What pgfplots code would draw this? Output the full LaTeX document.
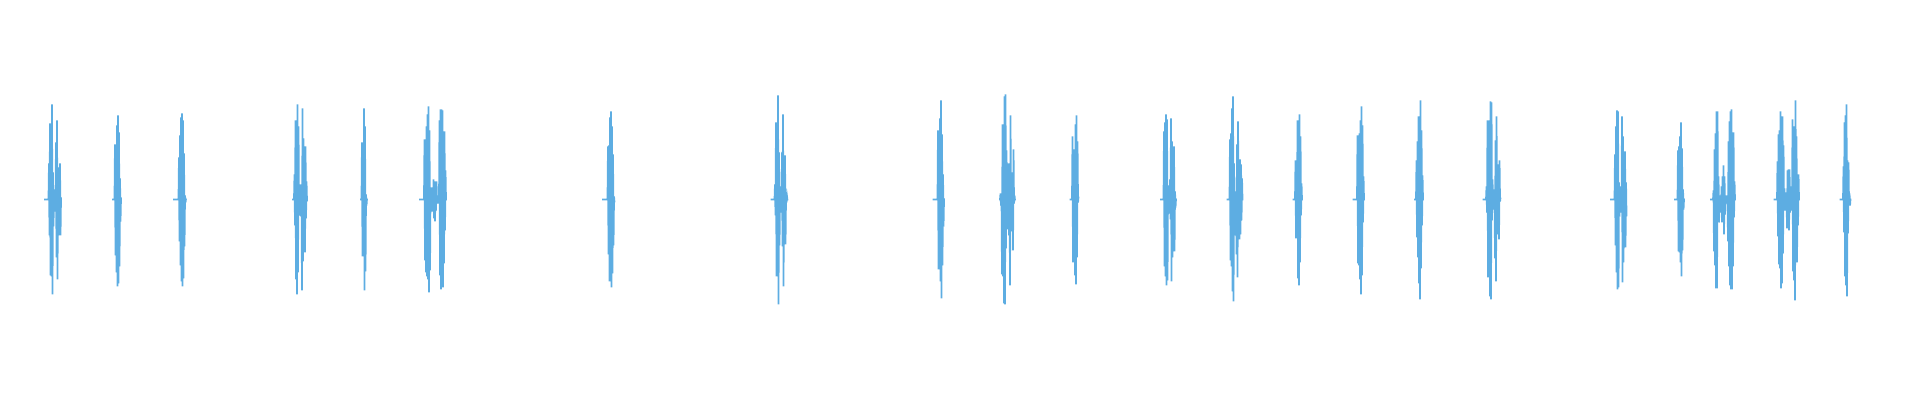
\documentclass[border=0pt]{standalone}
\usepackage{pgfplots}
\pgfplotsset{compat=1.18}
\definecolor{wavecol}{HTML}{5DADE2}
\pgfplotsset{wave/.style={color=wavecol, line width=0.5pt, mark=none, line join=miter}}

\begin{document}
\begin{tikzpicture}
\begin{axis}[
    width=19.2cm, height=4cm,
    scale only axis,
    hide axis,
    xmin=0, xmax=1920,
    ymin=-200.5, ymax=199.5,
]
% each burst of the waveform, x in pixels, amplitude in pixels
\addplot[wave] coordinates {(44,0)(48.5,0)(49.0,36)(49.5,-36)(50.0,76)(50.5,-76)(51.0,76)(51.5,-77)(52.0,95)(52.5,-95)(53.0,27)(53.5,-27)(54.0,10)(54.5,-12)(55.0,10)(55.5,-10)(56.0,57)(56.5,-58)(57.0,79)(57.5,-80)(58.0,32)(58.5,-30)(59.0,23)(59.5,-36)(60.0,36)(60.5,-36)(61.0,2)};
\addplot[wave] coordinates {(112,0)(114.5,0)(115.0,55)(115.5,-56)(116.0,55)(116.5,-73)(117.0,74)(117.5,-87)(118.0,84)(118.5,-84)(119.0,67)(119.5,-67)(120.0,21)(120.5,-22)(121.0,2)};
\addplot[wave] coordinates {(173,0)(178.5,0)(179.0,42)(179.5,-42)(180.0,64)(180.5,-66)(181.0,82)(181.5,-82)(182.0,86)(182.5,-87)(183.0,79)(183.5,-79)(184.0,46)(184.5,-47)(185.0,4)(185.5,-3)(186.0,1)};
\addplot[wave] coordinates {(292,0)(294,0)(294.5,25)(295.0,-26)(295.5,79)(296.0,-80)(296.5,79)(297.0,-95)(297.5,95)(298.0,-73)(298.5,73)(299.0,-8)(299.5,8)(300.0,-16)(300.5,15)(301.0,-17)(301.5,15)(302.0,-91)(302.5,91)(303.0,-62)(303.5,61)(304.0,-16)(304.5,16)(305.0,-53)(305.5,53)(306.0,-19)(306.5,18)(307.0,-2)};
\addplot[wave] coordinates {(360,0)(361.5,0)(362.0,57)(362.5,-57)(363.0,51)(363.5,-52)(364.0,91)(364.5,-91)(365.0,73)(365.5,-72)(366.0,5)(366.5,-6)(367.0,1)};
\addplot[wave] coordinates {(419,0)(424,0)(424.5,60)(425.0,-61)(425.5,60)(426.0,-73)(426.5,73)(427.0,-77)(427.5,85)(428.0,-80)(428.5,93)(429.0,-93)(429.5,69)(430.0,-71)(430.5,8)(431.0,-8)(431.5,12)(432.0,-12)(432.5,12)(433.0,-12)(433.5,20)(434.0,-19)(434.5,11)(435.0,-22)(435.5,18)(436.0,-11)(436.5,18)(437.0,-4)(437.5,4)(438.0,-4)(438.5,4)(439.0,-4)(439.5,79)(440.0,-76)(440.5,90)(441.0,-90)(441.5,90)(442.0,-88)(442.5,89)(443.0,-88)(443.5,68)(444.0,-64)(444.5,68)(445.0,-31)(445.5,29)(446.0,-1)};
\addplot[wave] coordinates {(602,0)(607.5,0)(608.0,53)(608.5,-55)(609.0,54)(609.5,-82)(610.0,82)(610.5,-82)(611.0,88)(611.5,-88)(612.0,73)(612.5,-74)(613.0,45)(613.5,-46)(614.0,3)(614.5,-3)};
\addplot[wave] coordinates {(770.5,0)(774.5,0)(775.0,15)(775.5,-16)(776.0,77)(776.5,-77)(777.0,68)(777.5,-68)(778.0,104)(778.5,-105)(779.0,47)(779.5,-46)(780.0,6)(780.5,-6)(781.0,13)(781.5,-13)(782.0,47)(782.5,-47)(783.0,85)(783.5,-87)(784.0,28)(784.5,-28)(785.0,44)(785.5,-45)(786.0,3)(786.5,-3)(787.0,3)(787.5,-1)};
\addplot[wave] coordinates {(932.5,0)(937.5,0)(938.0,69)(938.5,-70)(939.0,63)(939.5,-63)(940.0,81)(940.5,-82)(941.0,99)(941.5,-99)(942.0,65)(942.5,-66)(943.0,25)(943.5,-27)(944.0,1)};
\addplot[wave] coordinates {(999,0)(1000,0)(1000.5,6)(1001.0,-6)(1001.5,6)(1002.0,-75)(1002.5,75)(1003.0,-77)(1003.5,68)(1004.0,-104)(1004.5,103)(1005.0,-105)(1005.5,105)(1006.0,-49)(1006.5,49)(1007.0,-9)(1007.5,9)(1008.0,-30)(1008.5,36)(1009.0,-36)(1009.5,30)(1010.0,-86)(1010.5,84)(1011.0,-32)(1011.5,27)(1012.0,-27)(1012.5,27)(1013.0,-51)(1013.5,50)(1014.0,-4)(1014.5,4)(1015.0,-1)};
\addplot[wave] coordinates {(1069.5,0)(1072,0)(1072.5,63)(1073.0,-63)(1073.5,50)(1074.0,-51)(1074.5,50)(1075.0,-76)(1075.5,75)(1076.0,-85)(1076.5,84)(1077.0,-58)(1077.5,58)(1078.0,-3)(1078.5,3)};
\addplot[wave] coordinates {(1160,0)(1163.5,0)(1164.0,68)(1164.5,-67)(1165.0,77)(1165.5,-77)(1166.0,85)(1166.5,-86)(1167.0,80)(1167.5,-81)(1168.0,14)(1168.5,-14)(1169.0,8)(1169.5,-8)(1170.0,20)(1170.5,-20)(1171.0,81)(1171.5,-82)(1172.0,58)(1172.5,-58)(1173.0,16)(1173.5,-16)(1174.0,53)(1174.5,-52)(1175.0,8)(1175.5,-8)(1176.0,1)};
\addplot[wave] coordinates {(1226.5,0)(1229.5,0)(1230.0,60)(1230.5,-61)(1231.0,66)(1231.5,-67)(1232.0,91)(1232.5,-92)(1233.0,103)(1233.5,-102)(1234.0,36)(1234.5,-36)(1235.0,8)(1235.5,-8)(1236.0,8)(1236.5,-55)(1237.0,55)(1237.5,-78)(1238.0,78)(1238.5,-21)(1239.0,21)(1239.5,-40)(1240.0,40)(1240.5,-35)(1241.0,35)(1241.5,-21)(1242.0,21)(1242.5,-1)};
\addplot[wave] coordinates {(1292.5,0)(1295,0)(1295.5,39)(1296.0,-39)(1296.5,29)(1297.0,-29)(1297.5,79)(1298.0,-79)(1298.5,79)(1299.0,-86)(1299.5,85)(1300.0,-63)(1300.5,63)(1301.0,-16)(1301.5,16)(1302.0,-1)};
\addplot[wave] coordinates {(1352.5,0)(1357,0)(1357.5,64)(1358.0,-64)(1358.5,64)(1359.0,-66)(1359.5,66)(1360.0,-80)(1360.5,79)(1361.0,-95)(1361.5,93)(1362.0,-76)(1362.5,74)(1363.0,-23)(1363.5,23)(1364.0,-1)};
\addplot[wave] coordinates {(1414,0)(1416,0)(1416.5,39)(1417.0,-38)(1417.5,58)(1418.0,-58)(1418.5,83)(1419.0,-84)(1419.5,83)(1420.0,-100)(1420.5,99)(1421.0,-69)(1421.5,69)(1422.0,-26)(1422.5,24)(1423.0,-1)};
\addplot[wave] coordinates {(1482.5,0)(1486,0)(1486.5,13)(1487.0,-13)(1487.5,79)(1488.0,-78)(1488.5,79)(1489.0,-71)(1489.5,70)(1490.0,-97)(1490.5,98)(1491.0,-100)(1491.5,97)(1492.0,-21)(1492.5,20)(1493.0,-7)(1493.5,7)(1494.0,-10)(1494.5,10)(1495.0,-59)(1495.5,59)(1496.0,-82)(1496.5,83)(1497.0,-23)(1497.5,23)(1498.0,-35)(1498.5,35)(1499.0,-40)(1499.5,39)(1500.0,-2)(1500.5,2)};
\addplot[wave] coordinates {(1610,0)(1614.5,0)(1615.0,45)(1615.5,-46)(1616.0,73)(1616.5,-73)(1617.0,89)(1617.5,-90)(1618.0,88)(1618.5,-88)(1619.0,17)(1619.5,-17)(1620.0,13)(1620.5,-13)(1621.0,13)(1621.5,-13)(1622.0,83)(1622.5,-83)(1623.0,63)(1623.5,-63)(1624.0,14)(1624.5,-14)(1625.0,48)(1625.5,-48)(1626.0,17)(1626.5,-17)};
\addplot[wave] coordinates {(1674,0)(1677.5,0)(1678.0,49)(1678.5,-52)(1679.0,53)(1679.5,-53)(1680.0,63)(1680.5,-63)(1681.0,77)(1681.5,-77)(1682.0,51)(1682.5,-51)(1683.0,10)(1683.5,-10)(1684.0,1)};
\addplot[wave] coordinates {(1710,0)(1713,0)(1713.5,9)(1714.0,-52)(1714.5,50)(1715.0,-66)(1715.5,66)(1716.0,-89)(1716.5,88)(1717.0,-89)(1717.5,88)(1718.0,-23)(1718.5,23)(1719.0,-23)(1719.5,4)(1720.0,-4)(1720.5,4)(1721.0,-13)(1721.5,13)(1722.0,-23)(1722.5,23)(1723.0,-23)(1723.5,34)(1724.0,-35)(1724.5,23)(1725.0,-15)(1725.5,4)(1726.0,-4)(1726.5,4)(1727.0,-4)(1727.5,4)(1728.0,-42)(1728.5,58)(1729.0,-67)(1729.5,78)(1730.0,-86)(1730.5,88)(1731.0,-90)(1731.5,90)(1732.0,-90)(1732.5,67)(1733.0,-67)(1733.5,67)(1734.0,-18)(1734.5,18)(1735.0,-1)};
\addplot[wave] coordinates {(1773.5,0)(1777,0)(1777.5,38)(1778.0,-37)(1778.5,65)(1779.0,-65)(1779.5,69)(1780.0,-69)(1780.5,88)(1781.0,-89)(1781.5,83)(1782.0,-84)(1782.5,83)(1783.0,-54)(1783.5,54)(1784.0,-11)(1784.5,11)(1785.0,-11)(1785.5,7)(1786.0,-7)(1786.5,7)(1787.0,-29)(1787.5,29)(1788.0,-29)(1788.5,30)(1789.0,-31)(1789.5,30)(1790.0,-13)(1790.5,13)(1791.0,-11)(1791.5,11)(1792.0,-11)(1792.5,80)(1793.0,-72)(1793.5,73)(1794.0,-81)(1794.5,73)(1795.0,-101)(1795.5,99)(1796.0,-63)(1796.5,63)(1797.0,-63)(1797.5,25)(1798.0,-26)(1798.5,25)(1799.0,-1)};
\addplot[wave] coordinates {(1839.5,0)(1843,0)(1843.5,33)(1844.0,-33)(1844.5,77)(1845.0,-77)(1845.5,84)(1846.0,-86)(1846.5,95)(1847.0,-97)(1847.5,39)(1848.0,-34)(1848.5,37)(1849.0,-6)(1849.5,6)(1850.0,-6)(1850.5,1)};
\end{axis}
\path (current axis.south west) rectangle (current axis.north east);
\end{tikzpicture}
\end{document}
